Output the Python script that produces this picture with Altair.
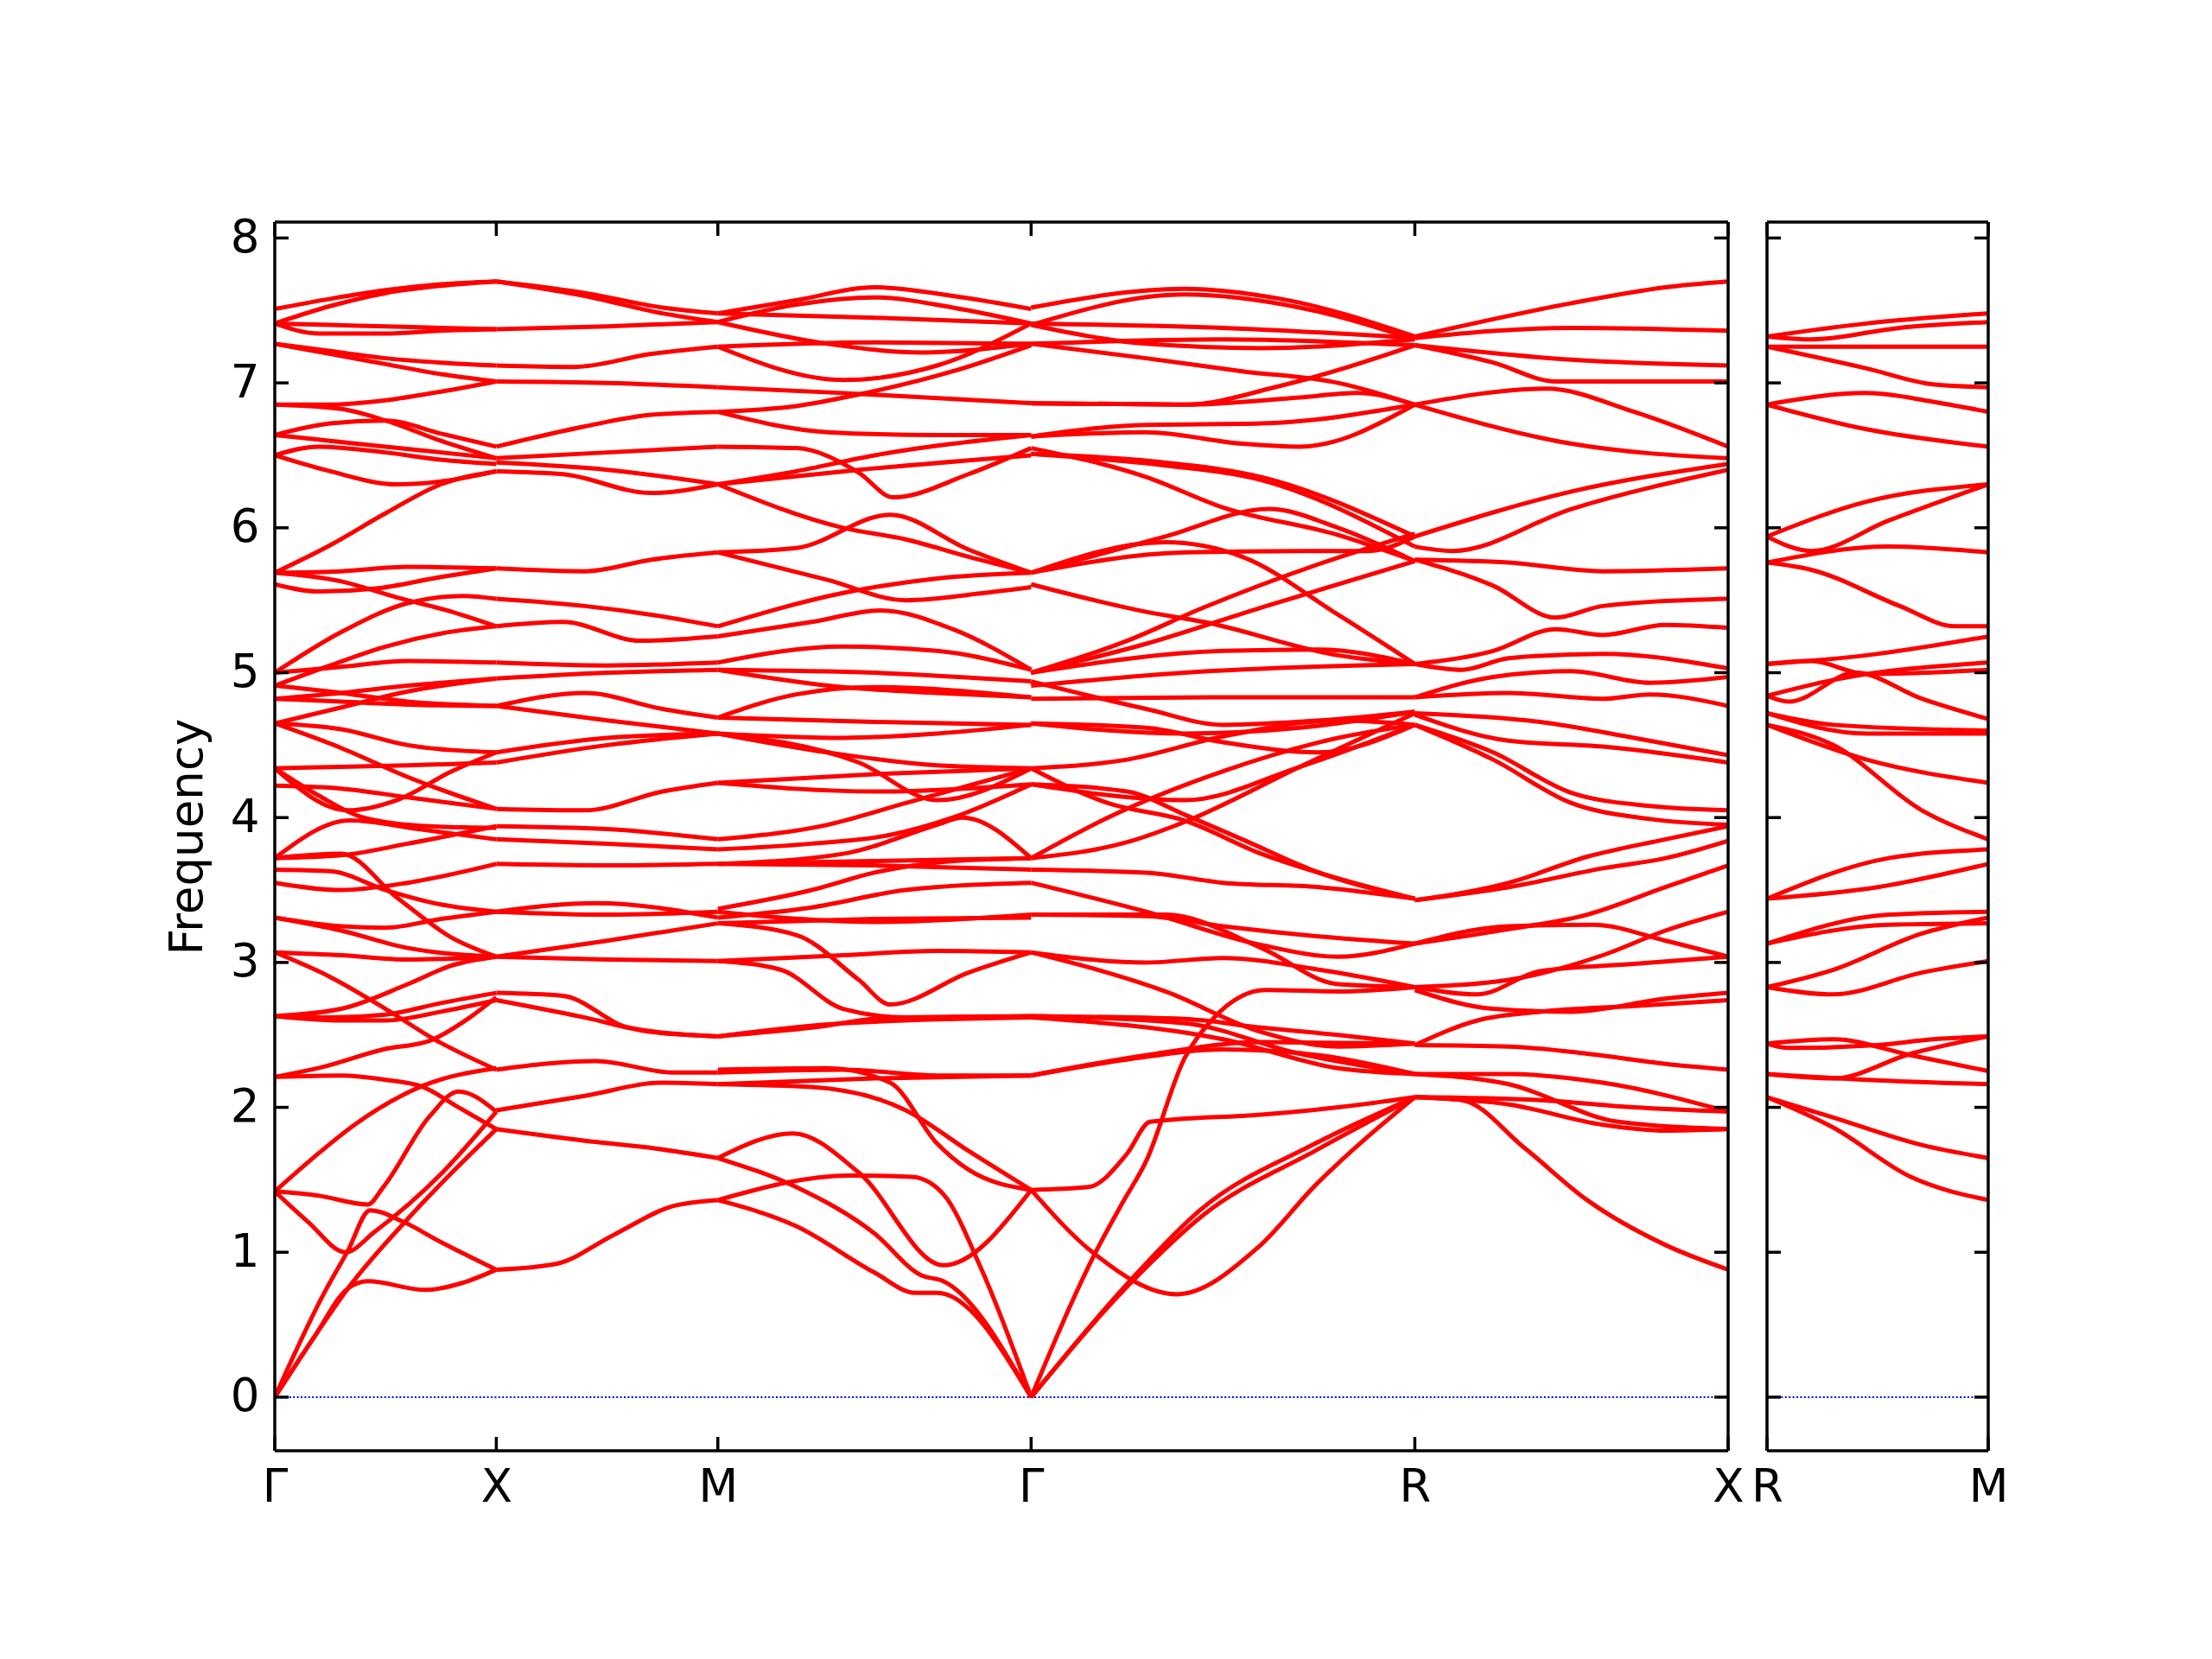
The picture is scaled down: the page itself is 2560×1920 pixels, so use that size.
import math
import pandas as pd
import altair as alt

# ---------------- data ----------------
KLABELS = ["Γ", "X", "M", "Γ", "R", "X"]
SEG_NAMES = ["GX", "XM", "MG", "GR", "RX"]
SEG_LEN = [1.0, 1.0, math.sqrt(2), math.sqrt(3), math.sqrt(2)]
RM_LABELS = ["R", "M"]
Y_TICKS = [0, 1, 2, 3, 4, 5, 6, 7, 8]

# each band: list of [fraction along segment, frequency]
GX = [
    [[0, 0], [0.22, 0.71], [0.33, 1.01], [0.43, 1.29], [0.58, 1.21], [0.75, 1.07], [1, 0.88]],
    [[0, 0], [0.18, 0.42], [0.33, 0.75], [0.42, 0.80], [0.68, 0.74], [0.85, 0.79], [1, 0.88]],
    [[0, 0], [0.18, 0.42], [0.33, 0.75], [0.6, 1.23], [0.8, 1.55], [1, 1.85]],
    [[0, 1.42], [0.15, 1.21], [0.32, 1.0], [0.45, 1.14], [0.75, 1.54], [1, 1.97]],
    [[0, 1.42], [0.2, 1.39], [0.42, 1.33], [0.49, 1.45], [0.7, 1.94], [0.83, 2.11], [1, 1.97]],
    [[0, 1.42], [0.18, 1.66], [0.36, 1.88], [0.67, 2.15], [1, 2.27]],
    [[0, 2.21], [0.3, 2.22], [0.5, 2.19], [0.67, 2.14], [0.83, 2.0], [1, 1.85]],
    [[0, 2.21], [0.22, 2.28], [0.49, 2.40], [0.7, 2.46], [0.88, 2.62], [1, 2.76]],
    [[0, 2.63], [0.25, 2.62], [0.5, 2.64], [0.75, 2.72], [1, 2.79]],
    [[0, 2.63], [0.3, 2.60], [0.5, 2.60], [0.75, 2.66], [1, 2.74]],
    [[0, 2.63], [0.3, 2.68], [0.6, 2.85], [0.8, 2.98], [1, 3.04]],
    [[0, 3.07], [0.25, 2.90], [0.5, 2.68], [0.72, 2.47], [1, 2.26]],
    [[0, 3.07], [0.3, 3.05], [0.6, 3.02], [1, 3.04]],
    [[0, 3.31], [0.3, 3.25], [0.5, 3.24], [0.75, 3.30], [1, 3.35]],
    [[0, 3.31], [0.3, 3.22], [0.6, 3.10], [1, 3.04]],
    [[0, 3.55], [0.3, 3.50], [0.6, 3.55], [1, 3.68]],
    [[0, 3.64], [0.25, 3.63], [0.5, 3.50], [0.75, 3.40], [1, 3.35]],
    [[0, 3.72], [0.34, 3.98], [0.65, 3.92], [1, 3.85]],
    [[0, 3.72], [0.3, 3.74], [0.6, 3.82], [1, 3.94]],
    [[0, 3.72], [0.3, 3.75], [0.55, 3.45], [0.8, 3.17], [1, 3.04]],
    [[0, 4.34], [0.2, 4.15], [0.4, 4.0], [0.7, 3.94], [1, 3.93]],
    [[0, 7.51], [0.25, 7.58], [0.5, 7.64], [0.75, 7.68], [1, 7.70]],
    [[0, 7.41], [0.25, 7.53], [0.5, 7.62], [0.75, 7.67], [1, 7.70]],
    [[0, 7.41], [0.25, 7.40], [0.5, 7.39], [0.75, 7.38], [1, 7.37]],
    [[0, 7.41], [0.2, 7.34], [0.5, 7.34], [0.75, 7.36], [1, 7.37]],
    [[0, 7.27], [0.25, 7.22], [0.5, 7.17], [0.75, 7.14], [1, 7.12]],
    [[0, 7.27], [0.25, 7.20], [0.5, 7.13], [0.75, 7.06], [1, 7.01]],
    [[0, 6.85], [0.25, 6.85], [0.5, 6.88], [0.75, 6.94], [1, 7.01]],
    [[0, 6.85], [0.3, 6.82], [0.5, 6.74], [0.75, 6.60], [1, 6.48]],
    [[0, 6.64], [0.25, 6.72], [0.5, 6.74], [0.75, 6.65], [1, 6.56]],
    [[0, 6.64], [0.25, 6.60], [0.5, 6.56], [0.75, 6.52], [1, 6.48]],
    [[0, 6.50], [0.2, 6.56], [0.5, 6.52], [0.75, 6.47], [1, 6.44]],
    [[0, 6.50], [0.25, 6.39], [0.55, 6.30], [0.8, 6.33], [1, 6.39]],
    [[0, 5.69], [0.25, 5.88], [0.5, 6.10], [0.75, 6.30], [1, 6.39]],
    [[0, 5.69], [0.3, 5.70], [0.6, 5.73], [1, 5.72]],
    [[0, 5.61], [0.2, 5.56], [0.45, 5.58], [0.75, 5.66], [1, 5.72]],
    [[0, 5.69], [0.3, 5.63], [0.55, 5.52], [0.8, 5.42], [1, 5.32]],
    [[0, 5.00], [0.3, 5.28], [0.6, 5.48], [0.85, 5.53], [1, 5.51]],
    [[0, 4.91], [0.25, 5.05], [0.5, 5.18], [0.75, 5.27], [1, 5.32]],
    [[0, 5.00], [0.3, 5.04], [0.6, 5.08], [1, 5.07]],
    [[0, 4.82], [0.3, 4.86], [0.6, 4.91], [1, 4.96]],
    [[0, 4.82], [0.3, 4.80], [0.6, 4.78], [1, 4.77]],
    [[0, 4.91], [0.3, 4.86], [0.6, 4.80], [1, 4.77]],
    [[0, 4.65], [0.3, 4.76], [0.6, 4.87], [1, 4.96]],
    [[0, 4.65], [0.3, 4.61], [0.6, 4.50], [1, 4.45]],
    [[0, 4.65], [0.3, 4.48], [0.6, 4.28], [1, 4.06]],
    [[0, 4.34], [0.3, 4.35], [0.6, 4.36], [1, 4.38]],
    [[0, 4.34], [0.33, 4.05], [0.55, 4.12], [0.8, 4.32], [1, 4.45]],
    [[0, 4.22], [0.3, 4.20], [0.6, 4.14], [1, 4.06]],
]

XM = [
    [[0, 7.70], [0.4, 7.62], [0.75, 7.52], [1, 7.48]],
    [[0, 7.70], [0.4, 7.60], [0.75, 7.48], [1, 7.42]],
    [[0, 7.37], [0.5, 7.39], [1, 7.42]],
    [[0, 7.12], [0.35, 7.11], [0.7, 7.20], [1, 7.25]],
    [[0, 7.01], [0.5, 7.00], [1, 6.97]],
    [[0, 6.56], [0.4, 6.70], [0.7, 6.78], [1, 6.80]],
    [[0, 6.48], [0.5, 6.52], [1, 6.56]],
    [[0, 6.45], [0.5, 6.40], [1, 6.30]],
    [[0, 6.39], [0.3, 6.37], [0.7, 6.24], [1, 6.30]],
    [[0, 5.72], [0.4, 5.70], [0.7, 5.78], [1, 5.83]],
    [[0, 5.51], [0.4, 5.46], [0.7, 5.40], [1, 5.32]],
    [[0, 5.32], [0.3, 5.35], [0.65, 5.22], [1, 5.25]],
    [[0, 5.07], [0.5, 5.05], [1, 5.07]],
    [[0, 4.96], [0.5, 5.00], [1, 5.02]],
    [[0, 4.77], [0.4, 4.86], [0.75, 4.75], [1, 4.69]],
    [[0, 4.77], [0.5, 4.67], [1, 4.58]],
    [[0, 4.45], [0.5, 4.55], [1, 4.58]],
    [[0, 4.38], [0.5, 4.50], [1, 4.58]],
    [[0, 4.06], [0.4, 4.05], [0.75, 4.18], [1, 4.24]],
    [[0, 3.94], [0.5, 3.92], [1, 3.85]],
    [[0, 3.85], [0.5, 3.82], [1, 3.78]],
    [[0, 3.68], [0.5, 3.67], [1, 3.68]],
    [[0, 3.35], [0.45, 3.41], [1, 3.31]],
    [[0, 3.35], [0.5, 3.33], [1, 3.35]],
    [[0, 3.04], [0.5, 3.02], [1, 3.01]],
    [[0, 3.04], [0.5, 3.15], [1, 3.27]],
    [[0, 2.79], [0.3, 2.77], [0.6, 2.55], [1, 2.49]],
    [[0, 2.74], [0.4, 2.62], [0.7, 2.52], [1, 2.49]],
    [[0, 2.26], [0.45, 2.32], [0.8, 2.24], [1, 2.24]],
    [[0, 1.98], [0.4, 2.08], [0.75, 2.17], [1, 2.16]],
    [[0, 1.85], [0.4, 1.77], [0.7, 1.72], [1, 1.65]],
    [[0, 0.88], [0.27, 0.92], [0.53, 1.12], [0.8, 1.32], [1, 1.36]],
]

MG = [
    [[0, 7.48], [0.25, 7.57], [0.5, 7.66], [0.75, 7.60], [1, 7.51]],
    [[0, 7.42], [0.25, 7.54], [0.5, 7.59], [0.75, 7.52], [1, 7.41]],
    [[0, 7.48], [0.5, 7.45], [1, 7.41]],
    [[0, 7.42], [0.35, 7.27], [0.65, 7.21], [1, 7.27]],
    [[0, 7.25], [0.4, 7.02], [0.7, 7.12], [1, 7.41]],
    [[0, 7.25], [0.5, 7.28], [1, 7.27]],
    [[0, 6.97], [0.4, 6.93], [1, 6.86]],
    [[0, 6.80], [0.25, 6.84], [0.45, 6.92], [0.75, 7.08], [1, 7.26]],
    [[0, 6.80], [0.35, 6.66], [0.7, 6.64], [1, 6.64]],
    [[0, 6.56], [0.25, 6.55], [0.45, 6.38], [0.56, 6.21], [0.8, 6.37], [1, 6.55]],
    [[0, 6.30], [0.25, 6.39], [0.5, 6.50], [1, 6.64]],
    [[0, 6.30], [0.45, 6.40], [1, 6.50]],
    [[0, 6.30], [0.4, 6.0], [0.6, 5.92], [0.8, 5.80], [1, 5.69]],
    [[0, 5.83], [0.25, 5.86], [0.55, 6.09], [0.8, 5.85], [1, 5.69]],
    [[0, 5.83], [0.35, 5.64], [0.6, 5.50], [0.85, 5.55], [1, 5.59]],
    [[0, 5.32], [0.4, 5.55], [0.7, 5.65], [1, 5.69]],
    [[0, 5.25], [0.3, 5.35], [0.52, 5.43], [0.75, 5.30], [1, 5.02]],
    [[0, 5.07], [0.4, 5.18], [0.7, 5.15], [1, 5.02]],
    [[0, 5.02], [0.5, 5.00], [1, 4.94]],
    [[0, 5.02], [0.4, 4.90], [0.7, 4.86], [1, 4.83]],
    [[0, 4.69], [0.25, 4.85], [0.5, 4.90], [1, 4.83]],
    [[0, 4.69], [0.5, 4.66], [1, 4.64]],
    [[0, 4.58], [0.4, 4.55], [0.7, 4.58], [1, 4.64]],
    [[0, 4.58], [0.35, 4.45], [0.7, 4.36], [1, 4.34]],
    [[0, 4.58], [0.45, 4.38], [0.7, 4.12], [1, 4.34]],
    [[0, 4.24], [0.5, 4.18], [1, 4.23]],
    [[0, 4.24], [0.5, 4.30], [1, 4.34]],
    [[0, 3.85], [0.35, 3.95], [0.6, 4.10], [1, 4.34]],
    [[0, 3.78], [0.3, 3.82], [0.55, 3.88], [0.75, 4.0], [1, 4.23]],
    [[0, 3.68], [0.4, 3.75], [0.7, 3.95], [0.78, 4.0], [1, 3.72]],
    [[0, 3.68], [0.5, 3.70], [1, 3.72]],
    [[0, 3.68], [0.5, 3.67], [1, 3.64]],
    [[0, 3.37], [0.3, 3.50], [0.5, 3.62], [0.75, 3.70], [1, 3.72]],
    [[0, 3.31], [0.3, 3.38], [0.6, 3.50], [1, 3.55]],
    [[0, 3.27], [0.25, 3.19], [0.45, 2.88], [0.55, 2.71], [0.8, 2.93], [1, 3.07]],
    [[0, 3.01], [0.2, 2.95], [0.4, 2.68], [0.6, 2.62], [1, 2.63]],
    [[0, 3.01], [0.4, 3.05], [0.7, 3.08], [1, 3.07]],
    [[0, 3.27], [0.5, 3.30], [1, 3.31]],
    [[0, 3.35], [0.5, 3.28], [1, 3.33]],
    [[0, 2.49], [0.3, 2.55], [0.55, 2.62], [1, 2.63]],
    [[0, 2.49], [0.4, 2.58], [1, 2.62]],
    [[0, 2.26], [0.35, 2.27], [0.55, 2.17], [0.7, 1.75], [0.8, 1.57], [1, 1.43]],
    [[0, 2.16], [0.3, 2.14], [0.6, 1.98], [0.8, 1.70], [1, 1.43]],
    [[0, 2.24], [0.4, 2.26], [0.7, 2.22], [1, 2.22]],
    [[0, 2.16], [0.5, 2.20], [1, 2.22]],
    [[0, 1.65], [0.24, 1.82], [0.45, 1.55], [0.72, 0.91], [1, 1.43]],
    [[0, 1.65], [0.25, 1.45], [0.5, 1.13], [0.65, 0.84], [0.72, 0.80], [1, 0]],
    [[0, 1.36], [0.42, 1.53], [0.62, 1.52], [0.72, 1.40], [0.84, 0.89], [1, 0]],
    [[0, 1.36], [0.25, 1.18], [0.5, 0.86], [0.63, 0.72], [0.7, 0.72], [1, 0]],
]

GR = [
    [[0, 7.52], [0.4, 7.65], [0.65, 7.58], [1, 7.32]],
    [[0, 7.40], [0.4, 7.61], [0.7, 7.52], [1, 7.30]],
    [[0, 7.41], [0.5, 7.38], [1, 7.31]],
    [[0, 7.40], [0.3, 7.27], [0.6, 7.24], [1, 7.30]],
    [[0, 7.27], [0.3, 7.17], [0.55, 7.08], [0.8, 7.0], [1, 6.85]],
    [[0, 7.27], [0.5, 7.30], [1, 7.26]],
    [[0, 6.86], [0.4, 6.85], [0.65, 6.98], [1, 7.26]],
    [[0, 6.86], [0.4, 6.85], [0.7, 6.90], [0.85, 6.93], [1, 6.85]],
    [[0, 6.63], [0.3, 6.66], [0.55, 6.58], [0.7, 6.56], [1, 6.85]],
    [[0, 6.63], [0.3, 6.71], [0.6, 6.72], [1, 6.85]],
    [[0, 6.51], [0.35, 6.43], [0.6, 6.33], [1, 5.87]],
    [[0, 6.51], [0.35, 6.45], [0.6, 6.35], [1, 5.94]],
    [[0, 6.55], [0.3, 6.35], [0.5, 6.14], [0.8, 5.95], [1, 5.77]],
    [[0, 5.69], [0.35, 5.94], [0.62, 6.13], [0.8, 6.0], [1, 5.77]],
    [[0, 5.69], [0.4, 5.83], [0.7, 5.84], [0.88, 5.84], [1, 5.94]],
    [[0, 5.69], [0.35, 5.90], [0.55, 5.80], [0.8, 5.40], [1, 5.06]],
    [[0, 5.61], [0.3, 5.42], [0.45, 5.35], [0.8, 5.12], [1, 5.06]],
    [[0, 5.00], [0.25, 5.22], [0.45, 5.45], [0.75, 5.75], [1, 5.96]],
    [[0, 5.00], [0.3, 5.20], [0.6, 5.45], [1, 5.77]],
    [[0, 5.00], [0.5, 5.15], [0.75, 5.16], [1, 5.06]],
    [[0, 4.91], [0.4, 5.0], [1, 5.06]],
    [[0, 4.94], [0.3, 4.75], [0.5, 4.64], [0.8, 4.68], [1, 4.73]],
    [[0, 4.82], [0.5, 4.83], [1, 4.83]],
    [[0, 4.65], [0.3, 4.62], [0.5, 4.52], [0.75, 4.45], [1, 4.64]],
    [[0, 4.65], [0.4, 4.58], [0.7, 4.62], [1, 4.73]],
    [[0, 4.34], [0.25, 4.40], [0.5, 4.56], [0.8, 4.67], [1, 4.64]],
    [[0, 4.23], [0.4, 4.12], [0.7, 4.35], [1, 4.64]],
    [[0, 4.34], [0.2, 4.1], [0.4, 3.98], [0.6, 3.75], [0.8, 3.58], [1, 3.44]],
    [[0, 4.23], [0.25, 4.18], [0.4, 4.02], [0.55, 3.85], [0.75, 3.62], [1, 3.44]],
    [[0, 3.72], [0.2, 4.0], [0.5, 4.32], [0.8, 4.55], [1, 4.64]],
    [[0, 3.72], [0.25, 3.83], [0.4, 3.97], [0.7, 4.35], [1, 4.72]],
    [[0, 3.64], [0.3, 3.62], [0.5, 3.55], [0.75, 3.52], [1, 3.44]],
    [[0, 3.55], [0.3, 3.35], [0.6, 3.12], [0.8, 3.04], [1, 3.13]],
    [[0, 3.33], [0.3, 3.32], [0.5, 3.25], [0.75, 3.18], [1, 3.13]],
    [[0, 3.33], [0.35, 3.33], [0.6, 3.10], [0.8, 2.85], [1, 2.83]],
    [[0, 3.07], [0.3, 3.0], [0.5, 3.03], [0.75, 2.95], [1, 2.83]],
    [[0, 3.07], [0.35, 2.80], [0.6, 2.52], [0.8, 2.42], [1, 2.44]],
    [[0, 2.63], [0.4, 2.61], [0.6, 2.55], [0.8, 2.50], [1, 2.44]],
    [[0, 2.63], [0.4, 2.58], [0.7, 2.37], [1, 2.23]],
    [[0, 2.62], [0.5, 2.47], [0.8, 2.27], [1, 2.23]],
    [[0, 2.22], [0.25, 2.33], [0.5, 2.40], [0.75, 2.36], [1, 2.23]],
    [[0, 2.22], [0.3, 2.36], [0.6, 2.45], [1, 2.44]],
    [[0, 1.43], [0.15, 1.45], [0.25, 1.68], [0.31, 1.90], [0.6, 1.95], [0.8, 2.0], [1, 2.07]],
    [[0, 0], [0.17, 1.01], [0.24, 1.35], [0.3, 1.63], [0.4, 2.34], [0.47, 2.6], [0.55, 2.77], [0.61, 2.81], [0.8, 2.80], [1, 2.83]],
    [[0, 1.43], [0.16, 1.0], [0.38, 0.71], [0.59, 1.03], [0.74, 1.46], [1, 2.07]],
    [[0, 0], [0.26, 0.81], [0.44, 1.29], [0.74, 1.75], [1, 2.07]],
    [[0, 0], [0.26, 0.79], [0.45, 1.26], [0.74, 1.70], [1, 2.07]],
]

RX = [
    [[0, 7.32], [0.5, 7.55], [0.8, 7.66], [1, 7.70]],
    [[0, 7.31], [0.5, 7.38], [1, 7.36]],
    [[0, 7.26], [0.5, 7.16], [1, 7.12]],
    [[0, 7.26], [0.25, 7.14], [0.45, 7.01], [1, 7.01]],
    [[0, 6.85], [0.42, 6.96], [0.7, 6.8], [1, 6.56]],
    [[0, 6.85], [0.5, 6.58], [1, 6.48]],
    [[0, 5.94], [0.5, 6.25], [1, 6.44]],
    [[0, 5.87], [0.12, 5.84], [0.5, 6.13], [1, 6.40]],
    [[0, 5.78], [0.3, 5.76], [0.6, 5.70], [1, 5.72]],
    [[0, 5.78], [0.25, 5.60], [0.45, 5.38], [0.6, 5.46], [1, 5.51]],
    [[0, 5.06], [0.25, 5.15], [0.45, 5.30], [0.6, 5.26], [0.8, 5.33], [1, 5.31]],
    [[0, 5.06], [0.15, 5.02], [0.3, 5.10], [0.6, 5.13], [1, 5.03]],
    [[0, 4.83], [0.25, 4.97], [0.5, 5.01], [0.75, 4.93], [1, 4.97]],
    [[0, 4.83], [0.3, 4.86], [0.6, 4.82], [0.75, 4.85], [1, 4.77]],
    [[0, 4.72], [0.4, 4.66], [0.7, 4.55], [1, 4.43]],
    [[0, 4.71], [0.3, 4.53], [0.6, 4.49], [1, 4.38]],
    [[0, 4.64], [0.25, 4.45], [0.5, 4.17], [0.75, 4.08], [1, 4.05]],
    [[0, 4.64], [0.25, 4.40], [0.5, 4.10], [0.75, 3.99], [1, 3.95]],
    [[0, 3.43], [0.3, 3.55], [0.55, 3.73], [0.8, 3.85], [1, 3.94]],
    [[0, 3.43], [0.3, 3.52], [0.6, 3.65], [0.8, 3.72], [1, 3.84]],
    [[0, 3.13], [0.3, 3.23], [0.55, 3.33], [0.8, 3.52], [1, 3.67]],
    [[0, 3.13], [0.3, 3.25], [0.57, 3.26], [0.8, 3.15], [1, 3.04]],
    [[0, 2.83], [0.3, 2.88], [0.6, 3.05], [0.8, 3.22], [1, 3.35]],
    [[0, 2.83], [0.2, 2.78], [0.4, 2.94], [0.7, 2.99], [1, 3.04]],
    [[0, 2.81], [0.25, 2.68], [0.5, 2.66], [0.8, 2.75], [1, 2.79]],
    [[0, 2.43], [0.2, 2.60], [0.4, 2.66], [0.7, 2.70], [1, 2.74]],
    [[0, 2.43], [0.3, 2.42], [0.55, 2.37], [0.8, 2.30], [1, 2.26]],
    [[0, 2.23], [0.3, 2.23], [0.6, 2.17], [1, 1.97]],
    [[0, 2.23], [0.3, 2.16], [0.65, 1.90], [1, 1.85]],
    [[0, 2.07], [0.15, 2.05], [0.35, 1.72], [0.55, 1.36], [0.8, 1.05], [1, 0.88]],
    [[0, 2.07], [0.3, 2.02], [0.6, 1.88], [0.8, 1.84], [1, 1.85]],
    [[0, 2.07], [0.4, 2.05], [0.7, 2.0], [1, 1.97]],
]

RM = [
    [[0, 7.32], [0.45, 7.41], [1, 7.48]],
    [[0, 7.32], [0.2, 7.30], [0.6, 7.38], [1, 7.42]],
    [[0, 7.25], [0.5, 7.25], [1, 7.25]],
    [[0, 7.25], [0.45, 7.10], [0.75, 6.99], [1, 6.97]],
    [[0, 6.85], [0.45, 6.93], [0.75, 6.87], [1, 6.80]],
    [[0, 6.85], [0.45, 6.68], [1, 6.56]],
    [[0, 5.94], [0.45, 6.18], [1, 6.30]],
    [[0, 5.94], [0.2, 5.84], [0.55, 6.05], [1, 6.30]],
    [[0, 5.76], [0.55, 5.87], [1, 5.83]],
    [[0, 5.76], [0.2, 5.71], [0.6, 5.46], [0.85, 5.32], [1, 5.32]],
    [[0, 5.06], [0.45, 5.12], [1, 5.25]],
    [[0, 5.06], [0.2, 5.08], [0.45, 4.99], [1, 5.02]],
    [[0, 4.84], [0.3, 4.95], [1, 5.07]],
    [[0, 4.84], [0.1, 4.80], [0.4, 5.0], [0.7, 4.82], [1, 4.68]],
    [[0, 4.72], [0.45, 4.58], [1, 4.58]],
    [[0, 4.72], [0.3, 4.64], [1, 4.60]],
    [[0, 4.64], [0.45, 4.40], [1, 4.24]],
    [[0, 4.64], [0.3, 4.50], [0.7, 4.05], [1, 3.85]],
    [[0, 3.44], [0.55, 3.72], [1, 3.78]],
    [[0, 3.44], [0.5, 3.52], [1, 3.68]],
    [[0, 3.13], [0.55, 3.33], [1, 3.35]],
    [[0, 3.13], [0.55, 3.26], [1, 3.27]],
    [[0, 2.83], [0.3, 2.95], [0.7, 3.20], [1, 3.31]],
    [[0, 2.83], [0.3, 2.78], [0.7, 2.93], [1, 3.01]],
    [[0, 2.44], [0.3, 2.47], [0.65, 2.36], [1, 2.25]],
    [[0, 2.44], [0.1, 2.41], [0.5, 2.43], [0.75, 2.47], [1, 2.49]],
    [[0, 2.23], [0.3, 2.20], [0.65, 2.37], [1, 2.49]],
    [[0, 2.23], [0.45, 2.19], [1, 2.16]],
    [[0, 2.07], [0.3, 1.93], [0.7, 1.74], [1, 1.65]],
    [[0, 2.07], [0.3, 1.86], [0.65, 1.52], [1, 1.36]],
]

# ---------------- build tables ----------------
KPOS = [0.0]
for L in SEG_LEN:
    KPOS.append(KPOS[-1] + L)
KMAX = KPOS[-1]

rows = []
for si, (name, bands) in enumerate(zip(SEG_NAMES, [GX, XM, MG, GR, RX])):
    for bi, band in enumerate(bands):
        for t, f in band:
            rows.append({"band": f"{name}{bi}", "k": KPOS[si] + t * SEG_LEN[si], "f": f})
main_df = pd.DataFrame(rows)

rm_rows = []
for bi, band in enumerate(RM):
    for t, f in band:
        rm_rows.append({"band": f"RM{bi}", "k": t, "f": f})
rm_df = pd.DataFrame(rm_rows)

ytick_df = pd.DataFrame({"f": Y_TICKS})
xtick_df = pd.DataFrame({"k": KPOS})
rmtick_df = pd.DataFrame({"k": [0.0, 1.0]})
zero_df = pd.DataFrame({"f": [0.0]})
one_df = pd.DataFrame({"o": [0]})

# ---------------- styling ----------------
FONT = "DejaVu Sans"
FS = 53
W_MAIN = 1682
W_RM = 256
H = 1422
TL = 16       # inward tick length
TW = 3.5      # tick / spine width
LW = 5        # band line width

yscale = alt.Scale(domain=[-0.37, 8.11], nice=False, zero=False)
xscale = alt.Scale(domain=[0, KMAX], nice=False, zero=False)
rmscale = alt.Scale(domain=[0, 1], nice=False, zero=False)

# label lookup from path positions
expr = ""
for i in range(len(KPOS) - 1):
    mid = (KPOS[i] + KPOS[i + 1]) / 2
    expr += f"datum.value < {mid:.4f} ? '{KLABELS[i]}' : "
expr += f"'{KLABELS[-1]}'"

xaxis = alt.Axis(values=KPOS, labelExpr=expr, ticks=False, domain=False, grid=False,
                 labelFont=FONT, labelFontSize=FS, labelColor="black", labelPadding=16,
                 labelFlush=False, labelOverlap=False, labelBound=False, title=None)
rmaxis = alt.Axis(values=[0, 1], labelExpr=f"datum.value < 0.5 ? '{RM_LABELS[0]}' : '{RM_LABELS[1]}'",
                  ticks=False, domain=False, grid=False, labelFont=FONT, labelFontSize=FS,
                  labelColor="black", labelPadding=16, labelFlush=False, labelOverlap=False,
                  labelBound=False, title=None)
yaxis = alt.Axis(values=Y_TICKS, ticks=False, domain=False, grid=False, labelFont=FONT,
                 labelFontSize=FS, labelColor="black", labelPadding=18, format="d",
                 title="Frequency", titleFont=FONT, titleFontSize=FS, titleFontWeight="normal",
                 titleColor="black", titlePadding=22)

X = alt.X("k:Q", scale=xscale, axis=xaxis)
Y = alt.Y("f:Q", scale=yscale, axis=yaxis)
XR = alt.X("k:Q", scale=rmscale, axis=rmaxis)
YR = alt.Y("f:Q", scale=yscale, axis=None)


def frame_layers(xenc, yenc, xdf, width):
    rule = dict(color="black", strokeWidth=TW)
    left = alt.Chart(ytick_df).mark_rule(**rule).encode(
        y=yenc, x=alt.value(0), x2=alt.value(TL))
    right = alt.Chart(ytick_df).mark_rule(**rule).encode(
        y=yenc, x=alt.value(width - TL), x2=alt.value(width))
    bottom = alt.Chart(xdf).mark_rule(**rule).encode(
        x=xenc, y=alt.value(H - TL), y2=alt.value(H))
    top = alt.Chart(xdf).mark_rule(**rule).encode(
        x=xenc, y=alt.value(0), y2=alt.value(TL))
    spine_l = alt.Chart(one_df).mark_rule(**rule).encode(
        x=alt.value(0), y=alt.value(0), y2=alt.value(H))
    spine_r = alt.Chart(one_df).mark_rule(**rule).encode(
        x=alt.value(width), y=alt.value(0), y2=alt.value(H))
    spine_t = alt.Chart(one_df).mark_rule(**rule).encode(
        y=alt.value(0), x=alt.value(0), x2=alt.value(width))
    spine_b = alt.Chart(one_df).mark_rule(**rule).encode(
        y=alt.value(H), x=alt.value(0), x2=alt.value(width))
    return [left, right, bottom, top, spine_l, spine_r, spine_t, spine_b]


main_lines = alt.Chart(main_df).mark_line(color="#ff0000", strokeWidth=LW,
                                          interpolate="monotone", clip=True).encode(
    x=X, y=Y, detail="band:N", order="k:Q")
main_zero = alt.Chart(zero_df).mark_rule(color="#0000ff", strokeWidth=2,
                                         strokeDash=[2, 2.4]).encode(y=Y)
main = alt.layer(main_zero, main_lines, *frame_layers(X, Y, xtick_df, W_MAIN)).properties(
    width=W_MAIN, height=H)

rm_lines = alt.Chart(rm_df).mark_line(color="#ff0000", strokeWidth=LW,
                                      interpolate="monotone", clip=True).encode(
    x=XR, y=YR, detail="band:N", order="k:Q")
rm_zero = alt.Chart(zero_df).mark_rule(color="#0000ff", strokeWidth=2,
                                       strokeDash=[2, 2.4]).encode(y=YR)
rm = alt.layer(rm_zero, rm_lines, *frame_layers(XR, YR, rmtick_df, W_RM)).properties(
    width=W_RM, height=H)

chart = alt.hconcat(main, rm, spacing=45, bounds="flush").properties(
    padding={"left": 182, "top": 240, "right": 20, "bottom": 20}
).configure_view(strokeWidth=0).configure(background="white")

chart.save("out.html", embed_options={"renderer": "svg", "actions": False})
